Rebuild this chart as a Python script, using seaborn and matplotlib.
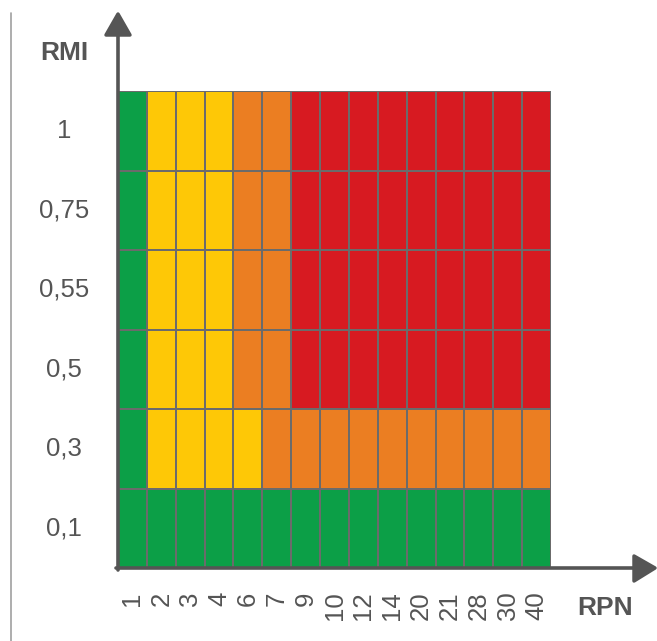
import numpy as np
import pandas as pd
import matplotlib
matplotlib.use("Agg")
import matplotlib.pyplot as plt
from matplotlib.colors import ListedColormap
from matplotlib.patches import Polygon
from matplotlib.lines import Line2D
import seaborn as sns

# --- DATA ---
rpn_labels = ["1", "2", "3", "4", "6", "7", "9", "10", "12", "14", "20", "21", "28", "30", "40"]
rmi_labels = ["1", "0,75", "0,55", "0,5", "0,3", "0,1"]

# zone codes: 0 = green, 1 = yellow, 2 = orange, 3 = red
zone_rmi_1 = [0, 1, 1, 1, 2, 2, 3, 3, 3, 3, 3, 3, 3, 3, 3]
zone_rmi_075 = [0, 1, 1, 1, 2, 2, 3, 3, 3, 3, 3, 3, 3, 3, 3]
zone_rmi_055 = [0, 1, 1, 1, 2, 2, 3, 3, 3, 3, 3, 3, 3, 3, 3]
zone_rmi_05 = [0, 1, 1, 1, 2, 2, 3, 3, 3, 3, 3, 3, 3, 3, 3]
zone_rmi_03 = [0, 1, 1, 1, 1, 2, 2, 2, 2, 2, 2, 2, 2, 2, 2]
zone_rmi_01 = [0, 0, 0, 0, 0, 0, 0, 0, 0, 0, 0, 0, 0, 0, 0]

zone_colors = ["#0c9f47", "#fec806", "#eb7e22", "#d71a21"]

W, H = 657, 641
TEXT = "#555555"

sns.set_theme(style="white")
plt.rcParams["font.family"] = ["Liberation Sans", "DejaVu Sans"]

grid = pd.DataFrame(
    [zone_rmi_1, zone_rmi_075, zone_rmi_055, zone_rmi_05, zone_rmi_03, zone_rmi_01],
    index=rmi_labels, columns=rpn_labels,
)


def px(x, y):
    return x / W, 1 - y / H


fig = plt.figure(figsize=(W / 100, H / 100), dpi=100)
left, top = px(118, 91)
right, bottom = px(551, 568)
ax = fig.add_axes([left, bottom, right - left, top - bottom])

sns.heatmap(grid, ax=ax, cmap=ListedColormap(zone_colors), vmin=-0.5, vmax=3.5,
            cbar=False, linewidths=1.3, linecolor="#6b6b6b")

ax.set_xlabel("")
ax.set_ylabel("")
ax.tick_params(axis="both", length=0, labelsize=18.5, labelcolor=TEXT)
ax.tick_params(axis="y", pad=39)
ax.tick_params(axis="x", pad=17)
plt.setp(ax.get_yticklabels(), rotation=0, ha="center", va="center")
plt.setp(ax.get_xticklabels(), rotation=90, ha="center", va="top")

# axis arrows
arrow_kw = dict(color="#555555", linewidth=2.6, transform=fig.transFigure)
fig.add_artist(Line2D(*zip(px(118, 570), px(118, 30)), **arrow_kw))
fig.add_artist(Line2D(*zip(px(116, 568), px(640, 568)), **arrow_kw))
fig.add_artist(Polygon([px(118, 14), px(106, 35), px(130, 35)], closed=True,
                       facecolor="#555555", edgecolor="#555555", linewidth=2.5,
                       joinstyle="round", transform=fig.transFigure))
fig.add_artist(Polygon([px(655, 568), px(634, 556), px(634, 581)], closed=True,
                       facecolor="#555555", edgecolor="#555555", linewidth=2.5,
                       joinstyle="round", transform=fig.transFigure))

# thin left rule
fig.add_artist(Line2D(*zip(px(10.5, 13), px(10.5, 641)), color="#a0a0a0",
                      linewidth=1.2, transform=fig.transFigure))

# axis titles
fig.text(*px(64, 53), "RMI", fontsize=19, fontweight="bold", color=TEXT,
         ha="center", va="center")
fig.text(*px(605, 608), "RPN", fontsize=19, fontweight="bold", color=TEXT,
         ha="center", va="center")

fig.savefig("out.png", dpi=100)
